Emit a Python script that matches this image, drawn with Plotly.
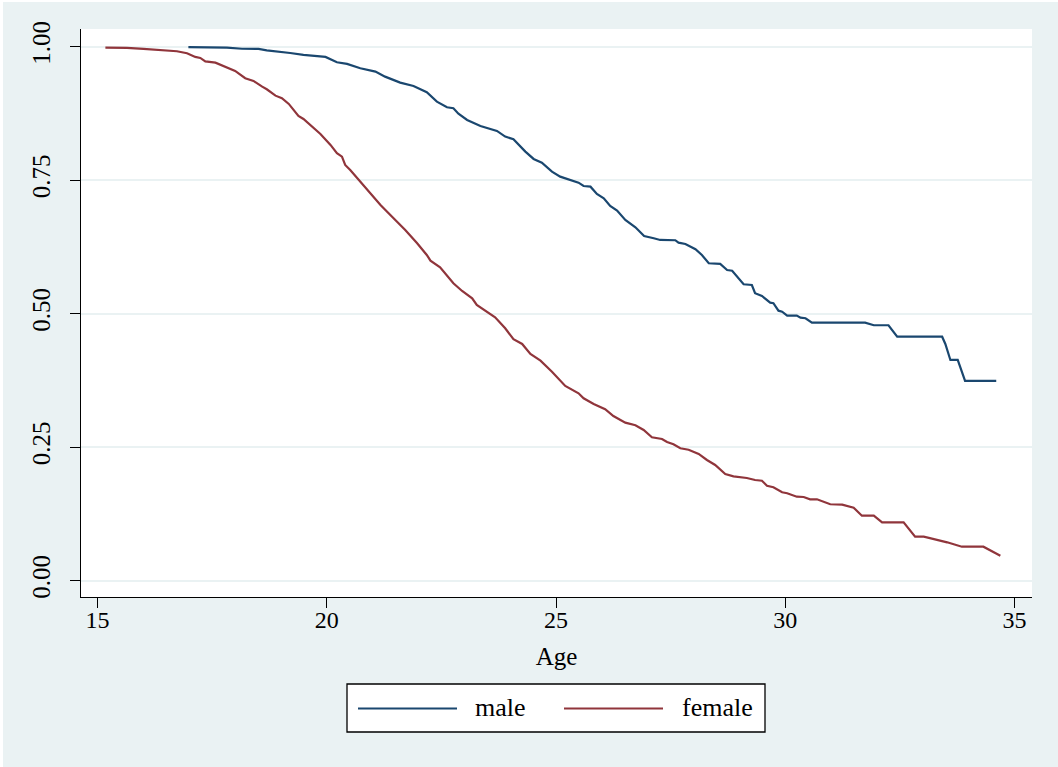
import plotly.graph_objects as go

# Kaplan-Meier survival estimates
male_age = [16.98, 17.82, 18.15, 18.51, 18.69, 18.98, 19.20, 19.49, 19.68, 19.97,
            20.22, 20.44, 20.73, 21.06, 21.27, 21.60, 21.89, 22.18, 22.40, 22.62,
            22.76, 22.87, 23.06, 23.35, 23.71, 23.89, 24.07, 24.33, 24.51, 24.69,
            24.91, 25.09, 25.49, 25.60, 25.75, 25.89, 26.04, 26.18, 26.33, 26.51,
            26.73, 26.92, 27.13, 27.27, 27.60, 27.67, 27.82, 28.04, 28.18, 28.33,
            28.58, 28.73, 28.84, 29.09, 29.27, 29.34, 29.49, 29.67, 29.74, 29.85,
            29.93, 30.04, 30.25, 30.33, 30.44, 30.58, 31.74, 31.93, 32.25, 32.44,
            33.42, 33.49, 33.60, 33.76, 33.92, 34.60]
male_surv = [0.999, 0.998, 0.996, 0.9957, 0.993, 0.9906, 0.988, 0.9845, 0.9826, 0.9807,
             0.9708, 0.9676, 0.9596, 0.9532, 0.9438, 0.9326, 0.9264, 0.9146, 0.897, 0.8865,
             0.8846, 0.8745, 0.8627, 0.8515, 0.8421, 0.8315, 0.8266, 0.8034, 0.7897, 0.7828,
             0.7659, 0.7566, 0.7453, 0.7391, 0.7378, 0.7242, 0.7161, 0.7017, 0.6929, 0.6755,
             0.6618, 0.6455, 0.6412, 0.638, 0.6375, 0.633, 0.6305, 0.6206, 0.6099, 0.5944,
             0.5931, 0.5818, 0.5805, 0.555, 0.5537, 0.5382, 0.5331, 0.5206, 0.5195, 0.5056,
             0.5037, 0.4963, 0.4963, 0.4925, 0.4914, 0.4831, 0.4831, 0.4783, 0.4783, 0.4569,
             0.4569, 0.4433, 0.4133, 0.4133, 0.374, 0.374]

female_age = [15.17, 15.64, 16.00, 16.44, 16.73, 16.95, 17.13, 17.24, 17.35, 17.57,
              17.82, 18.00, 18.22, 18.40, 18.59, 18.69, 18.88, 19.02, 19.17, 19.38,
              19.49, 19.68, 19.86, 20.08, 20.22, 20.33, 20.40, 20.51, 20.84, 21.17,
              21.45, 21.71, 21.97, 22.18, 22.26, 22.47, 22.76, 22.95, 23.17, 23.27,
              23.67, 23.89, 24.07, 24.26, 24.44, 24.66, 24.91, 25.20, 25.49, 25.60,
              25.82, 26.07, 26.25, 26.51, 26.73, 26.91, 27.09, 27.31, 27.42, 27.56,
              27.71, 27.89, 28.11, 28.29, 28.47, 28.69, 28.87, 29.16, 29.34, 29.49,
              29.60, 29.74, 29.93, 30.04, 30.25, 30.40, 30.54, 30.69, 30.98, 31.24,
              31.49, 31.67, 31.93, 32.11, 32.58, 32.83, 33.02, 33.53, 33.85, 34.32,
              34.69]
female_surv = [0.998, 0.9976, 0.9957, 0.9938, 0.9914, 0.9876, 0.9807, 0.9788, 0.9723, 0.970,
               0.9614, 0.9545, 0.9408, 0.9358, 0.9251, 0.9202, 0.9082, 0.9034, 0.8927, 0.8702,
               0.8646, 0.8502, 0.8365, 0.8159, 0.8004, 0.794, 0.7785, 0.7691, 0.7354, 0.7036,
               0.6792, 0.6567, 0.6318, 0.6099, 0.5993, 0.5869, 0.5569, 0.5425, 0.5288, 0.5163,
               0.4933, 0.4727, 0.4521, 0.4433, 0.4245, 0.412, 0.3914, 0.3646, 0.3509, 0.3416,
               0.3309, 0.321, 0.3084, 0.2959, 0.291, 0.2822, 0.2685, 0.2654, 0.2597, 0.2554,
               0.2479, 0.2453, 0.2373, 0.226, 0.2167, 0.1998, 0.1955, 0.1923, 0.1886, 0.1873,
               0.1779, 0.1749, 0.1655, 0.1637, 0.1573, 0.1567, 0.1524, 0.1524, 0.1431, 0.1423,
               0.1367, 0.1217, 0.1217, 0.1094, 0.1094, 0.0824, 0.0824, 0.0719, 0.0637, 0.0637,
               0.0468]

x_ticks = [15, 20, 25, 30, 35]
y_ticks = [0.0, 0.25, 0.5, 0.75, 1.0]
y_tick_labels = ["0.00", "0.25", "0.50", "0.75", "1.00"]
series_names = ["male", "female"]
series_colors = ["#1a476f", "#90353b"]

BG = "#eaf2f3"
FONT = "Liberation Serif"

fig = go.Figure()
fig.add_trace(go.Scatter(x=male_age, y=male_surv, mode="lines", name=series_names[0],
                         line=dict(color=series_colors[0], width=2.2), showlegend=False))
fig.add_trace(go.Scatter(x=female_age, y=female_surv, mode="lines", name=series_names[1],
                         line=dict(color=series_colors[1], width=2.2), showlegend=False))

# page offset of the figure (thin white strip at left/top like the reference)
OX, OY = 3, 2
W, H = 1055, 765
L, R, T, B = 78, 26, 27, 170
pw, ph = W - L - R, H - T - B


def px_x(p):
    return (p - OX - L) / pw


def px_y(p):
    return (H - B - (p - OY)) / ph


shapes = []
annotations = []
# legend box (custom, to match the long line samples)
shapes.append(dict(type="rect", xref="paper", yref="paper",
                   x0=px_x(347), x1=px_x(765), y0=px_y(732), y1=px_y(684),
                   line=dict(color="black", width=1.3), fillcolor="white", layer="above"))
legend_lines = [(358, 457, 473), (564, 663, 680)]
for (a, b, tx), name, col in zip(legend_lines, series_names, series_colors):
    shapes.append(dict(type="line", xref="paper", yref="paper",
                       x0=px_x(a), x1=px_x(b), y0=px_y(708.5), y1=px_y(708.5),
                       line=dict(color=col, width=2.2), layer="above"))
    annotations.append(dict(text=name, xref="paper", yref="paper", x=px_x(tx), y=px_y(707),
                            xanchor="left", yanchor="middle", showarrow=False,
                            font=dict(family=FONT, size=26, color="black")))

fig.update_layout(
    width=W, height=H,
    margin=dict(l=L, r=R, t=T, b=B, pad=0),
    paper_bgcolor=BG, plot_bgcolor="white",
    font=dict(family=FONT, size=24, color="black"),
    shapes=shapes, annotations=annotations,
    showlegend=False,
)
fig.update_xaxes(range=[14.638, 35.38], tickvals=x_ticks, ticks="outside", ticklen=10,
                 tickwidth=1.3, tickcolor="black", showline=True, linecolor="black",
                 linewidth=1.3, showgrid=False, zeroline=False,
                 tickfont=dict(family=FONT, size=24), ticklabelstandoff=-9,
                 title=dict(text="Age", font=dict(family=FONT, size=25), standoff=15))
fig.update_yaxes(range=[-0.0305, 1.033], tickvals=y_ticks, ticktext=y_tick_labels,
                 ticks="outside", ticklen=10, tickwidth=1.3, tickcolor="black",
                 showline=True, linecolor="black", linewidth=1.3,
                 showgrid=True, gridcolor=BG, gridwidth=1.5, zeroline=False,
                 tickangle=-90, tickfont=dict(family=FONT, size=25), ticklabelstandoff=10)

fig.write_html("out.html",
               post_script="document.body.style.margin='%dpx 0 0 %dpx';"
                           "document.body.style.overflow='hidden';" % (OY, OX))
